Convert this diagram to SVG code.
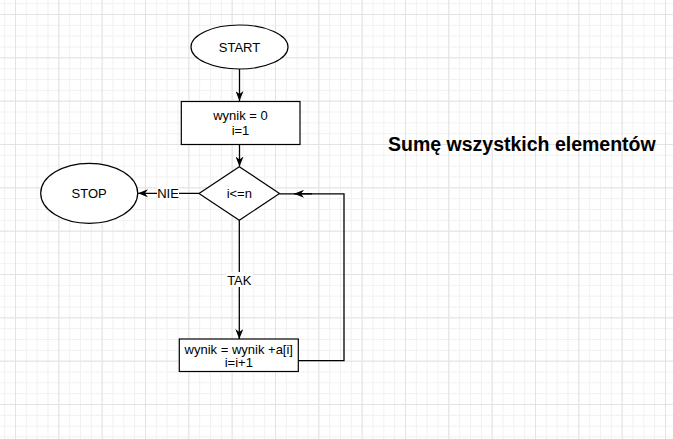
<svg xmlns="http://www.w3.org/2000/svg" width="673" height="439" viewBox="0 0 673 439">
<defs>
<pattern id="minor" patternUnits="userSpaceOnUse" x="15" y="14" width="10.8333" height="10.8333">
<path d="M0 0.5H10.8333M0.5 0V10.8333" stroke="#f1f1f1" stroke-width="1" fill="none"/>
</pattern>
<pattern id="major" patternUnits="userSpaceOnUse" x="15" y="14" width="43.3333" height="43.3333">
<path d="M0 0.5H43.3333M0.5 0V43.3333" stroke="#e3e3e3" stroke-width="1" fill="none"/>
</pattern>
<marker id="arr" viewBox="0 0 10 8" refX="10" refY="4" markerWidth="10" markerHeight="8" markerUnits="userSpaceOnUse" orient="auto">
<path d="M0 0L10 4L0 8L3 4Z" fill="#000"/>
</marker>
</defs>
<style>
.shape{fill:#fff;stroke:#000;stroke-width:1.2}
.t{font-family:"Liberation Sans",Arial,sans-serif;font-size:13px;fill:#000;text-anchor:middle}
.edge{fill:none;stroke:#000;stroke-width:1.3}
.lbl{fill:#fff}
.title{font-family:"Liberation Sans",Arial,sans-serif;font-size:19.5px;font-weight:bold;fill:#000}
</style>
<rect width="673" height="439" fill="#fff"/>
<rect width="673" height="439" fill="url(#minor)"/>
<rect width="673" height="439" fill="url(#major)"/>

<g id="connectors">
<path class="edge" d="M239.5 69V101" marker-end="url(#arr)"/>
<path class="edge" d="M239.5 145V166.5" marker-end="url(#arr)"/>
<path class="edge" d="M199 193.3H138" marker-end="url(#arr)"/>
<path class="edge" d="M239.3 220V339" marker-end="url(#arr)"/>
<path class="edge" d="M298.3 360.7H344V193.8H279.5"/>
<path class="edge" d="M312 193.8H294" marker-end="url(#arr)"/>
<g id="label-nie">
<rect class="lbl" x="157" y="186" width="22" height="15"/>
<text class="t" x="168" y="198">NIE</text>
</g>
<g id="label-tak">
<rect class="lbl" x="226" y="272" width="27" height="15"/>
<text class="t" x="239.3" y="284.5">TAK</text>
</g>
</g>

<g id="start">
<ellipse class="shape" cx="239.5" cy="47" rx="48.5" ry="22"/>
<text class="t" x="239.5" y="51.7">START</text>
</g>
<g id="init">
<rect class="shape" x="181.3" y="101.5" width="118.7" height="43"/>
<text class="t" x="240.5" y="119.5">wynik = 0</text>
<text class="t" x="240.5" y="135">i=1</text>
</g>
<g id="cond">
<path class="shape" d="M239.3 166.7L279.5 193.5L239.3 220.2L199 193.5Z"/>
<text class="t" x="239.3" y="198">i&lt;=n</text>
</g>
<g id="stop">
<ellipse class="shape" cx="89.2" cy="193.3" rx="48.5" ry="30"/>
<text class="t" x="89.2" y="198">STOP</text>
</g>
<g id="body">
<rect class="shape" x="179.3" y="339" width="119" height="32.5"/>
<text class="t" x="238.8" y="353.5">wynik = wynik +a[i]</text>
<text class="t" x="238.8" y="367.3">i=i+1</text>
</g>
<g id="title">
<text class="title" x="388" y="150.7">Sumę wszystkich elementów</text>
</g>
</svg>
